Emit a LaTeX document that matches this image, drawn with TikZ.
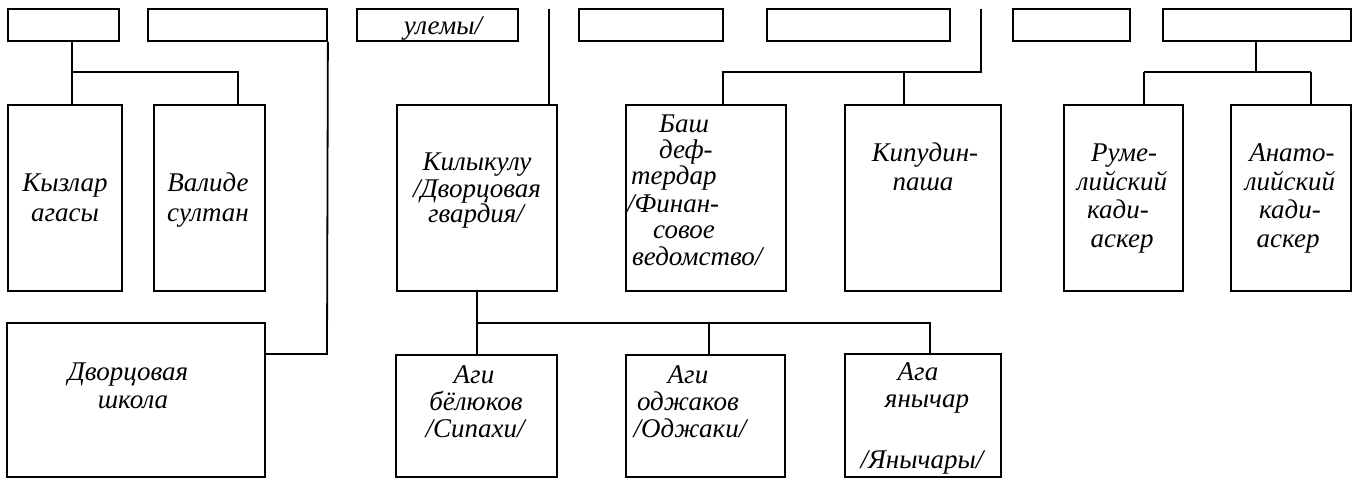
\documentclass[tikz,border=0pt]{standalone}
\usepackage{fontspec}
\setmainfont{Liberation Serif}
\begin{document}
\begin{tikzpicture}[x=1pt,y=-1pt,
  box/.style={draw,line width=1.8pt,inner sep=0pt},
  conn/.style={line width=1.8pt},
  txt/.style={font=\itshape\fontsize{27}{30}\selectfont,inner sep=0pt,anchor=base},
  txtw/.style={font=\itshape\fontsize{27}{30}\selectfont,inner sep=0pt,anchor=base west}]
\useasboundingbox (0,0) rectangle (1360,479);
\newcommand\boxat[5]{\node[box,minimum width=#4-#2,minimum height=#5-#3] (#1) at ({(#2+#4)/2},{(#3+#5)/2}) {};}
% top row
\boxat{t1}{8}{9}{119}{41}
\boxat{t2}{148}{9}{327}{41}
\boxat{t3}{357}{9}{518}{41}
\boxat{t4}{579}{9}{723}{41}
\boxat{t5}{767}{9}{950}{41}
\boxat{t6}{1013}{9}{1130}{41}
\boxat{t7}{1163}{9}{1351}{41}
% middle row
\boxat{kyz}{8}{105}{122}{291}
\boxat{val}{154}{105}{265}{291}
\boxat{kil}{397}{105}{557}{291}
\boxat{bash}{626}{105}{786}{291}
\boxat{kip}{845}{105}{1001}{291}
\boxat{rum}{1064}{105}{1183}{291}
\boxat{ana}{1231}{105}{1351}{291}
% bottom row
\boxat{dvs}{7}{323}{265}{477}
\boxat{agb}{396}{355}{557}{477}
\boxat{ago}{626}{355}{785}{477}
\boxat{agy}{845}{354}{1001}{477}
% texts
\node[txt] (t3a) at (443,34) {улемы/};
\node[txt] (kyz1) at (65,191) {Кызлар};
\node[txt] (kyz2) at (65,221) {агасы};
\node[txt] (val1) at (208,191) {Валиде};
\node[txt] (val2) at (208,221) {султан};
\node[txt] (kil1) at (477,170) {Килыкулу};
\node[txt] (kil2) at (477,197) {/Дворцовая};
\node[txt] (kil3) at (476,222) {гвардия/};
\node[txtw] (bas1) at (659,132) {Баш};
\node[txtw] (bas2) at (659,158) {деф-};
\node[txtw] (bas3) at (631,184) {тердар};
\node[txtw] (bas4) at (627,212) {/Финан-};
\node[txtw] (bas5) at (653,238) {совое};
\node[txtw] (bas6) at (632,265) {ведомство/};
\node[txt] (kip1) at (925,161) {Кипудин-};
\node[txt] (kip2) at (923,190) {паша};
\node[txt] (rum1) at (1124,161) {Руме-};
\node[txt] (rum2) at (1122,190) {лийский};
\node[txt] (rum3) at (1118,218) {кади-};
\node[txt] (rum4) at (1122,247) {аскер};
\node[txt] (ana1) at (1292,161) {Анато-};
\node[txt] (ana2) at (1290,190) {лийский};
\node[txt] (ana3) at (1290,218) {кади-};
\node[txt] (ana4) at (1288,247) {аскер};
\node[txt] (dvs1) at (128,380) {Дворцовая};
\node[txt] (dvs2) at (133,408) {школа};
\node[txt] (agb1) at (474,383) {Аги};
\node[txt] (agb2) at (476,410) {бёлюков};
\node[txt] (agb3) at (475,437) {/Сипахи/};
\node[txt] (ago1) at (688,383) {Аги};
\node[txt] (ago2) at (688,410) {оджаков};
\node[txt] (ago3) at (690,437) {/Оджаки/};
\node[txt] (agy1) at (918,380) {Ага};
\node[txt] (agy2) at (927,407) {янычар};
\node[txt] (agy3) at (922,468) {/Янычары/};
% connectors
\coordinate (j1) at (72,72);
\coordinate (j1r) at (238,72);
\draw[conn] (t1.south -| j1) -- (kyz.north -| j1);
\draw[conn] (j1) -- (j1r) -- (val.north -| j1r);
\coordinate (c2) at (327,354);
\draw[conn] (t2.south east) -- (c2) -- (c2 -| dvs.east);
\coordinate (c3) at (549,9);
\draw[conn] (c3) -- (c3 |- kil.north);
\coordinate (j3) at (477,323);
\coordinate (j3m) at (709,323);
\coordinate (j3r) at (930,323);
\draw[conn] (kil.south -| j3) -- (agb.north -| j3);
\draw[conn] (j3) -- (j3r) -- (agy.north -| j3r);
\draw[conn] (j3m) -- (ago.north -| j3m);
\coordinate (c4) at (981,9);
\coordinate (j4) at (981,72);
\coordinate (j4l) at (723,72);
\coordinate (j4m) at (904,72);
\draw[conn] (c4) -- (j4) -- (j4l) -- (bash.north -| j4l);
\draw[conn] (j4m) -- (kip.north -| j4m);
\coordinate (j7) at (1256,72);
\coordinate (j7l) at (1144,72);
\coordinate (j7r) at (1311,72);
\draw[conn] (t7.south -| j7) -- (j7);
\draw[conn] (j7l) -- (j7r);
\draw[conn] (j7l) -- (rum.north -| j7l);
\draw[conn] (j7r) -- (ana.north -| j7r);
\end{tikzpicture}
\end{document}
